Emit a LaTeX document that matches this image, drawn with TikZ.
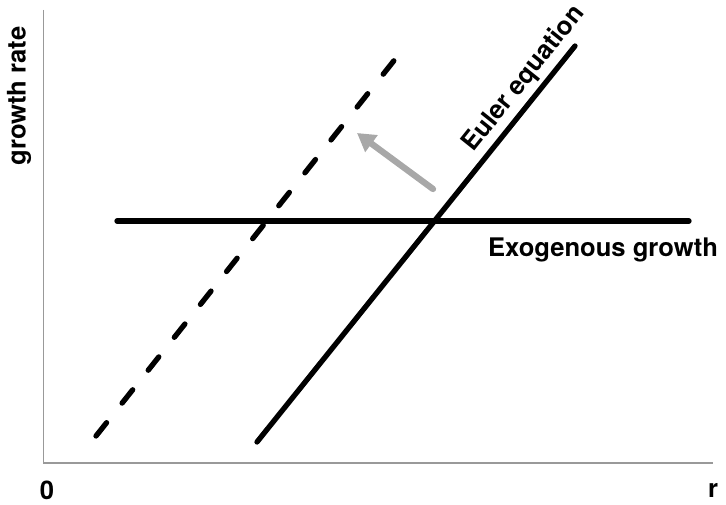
\documentclass[tikz,border=0pt]{standalone}
\usepackage{fontspec}
\setmainfont{TeX Gyre Heros}
\usetikzlibrary{arrows.meta}
\begin{document}
\begin{tikzpicture}[x=1pt,y=-1pt,
  axis/.style={draw=black!40,line width=1.6pt},
  curve/.style={line width=5.3pt,line cap=round},
  lbl/.style={font=\fontsize{25.6}{30}\selectfont\bfseries,inner sep=0pt}]
\useasboundingbox (0,0) rectangle (726,505);
\coordinate (top) at (43.3,10);
\coordinate (orig) at (43.3,463);
\coordinate (xend) at (713,463);
\draw[axis] (top) -- (orig) -- (xend);
\coordinate (h1) at (117,221);
\coordinate (h2) at (689,221);
\draw[curve] (h1) -- (h2);
\coordinate (e1) at (257,442);
\coordinate (e2) at (575,46);
\draw[curve] (e1) -- (e2);
\coordinate (d1) at (96,436);
\coordinate (d2) at (404,48);
\draw[curve,dash pattern=on 17pt off 25pt] (d1) -- (d2);
\coordinate (a1) at (433,189);
\coordinate (a2) at (357,133);
\draw[draw=black!34,line width=6.3pt,line cap=round,-{Triangle[length=18pt,width=20pt]}] (a1) -- (a2);
\node[lbl,rotate=90] (gr) at (19,96) {growth rate};
\node[lbl] (zero) at (47,490) {0};
\node[lbl] (r) at (713,490) {r};
\node[lbl] (exo) at (603,250) {Exogenous growth};
\node[lbl,rotate=51.3] (euler) at (524,79) {Euler equation};
\end{tikzpicture}
\end{document}
